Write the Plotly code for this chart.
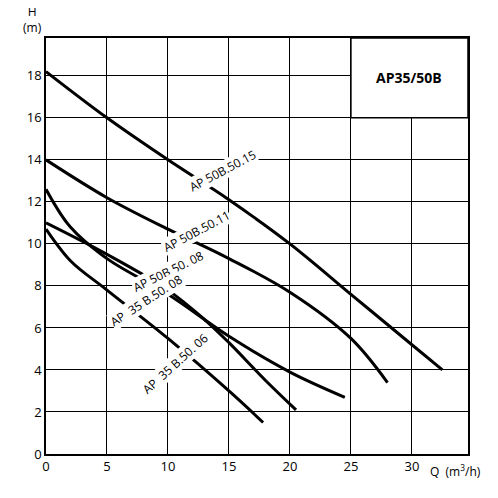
import plotly.graph_objects as go

names = ["AP 50B.50.15", "AP 50B.50.11", "AP 50B.50. 08", "AP  35 B.50. 08", "AP  35 B.50. 06"]
qs = [
    [0, 5, 10, 15, 20, 25, 30, 32.5],
    [0, 5, 10, 15, 20, 25, 28],
    [0, 2, 5, 10, 15, 20, 24.5],
    [0, 5, 10, 13, 15, 18, 20.5],
    [0, 2, 5, 10, 15, 17.8],
]
hs = [
    [18.2, 16.0, 14.0, 12.1, 10.0, 7.6, 5.2, 4.0],
    [14.0, 12.2, 10.7, 9.3, 7.7, 5.5, 3.4],
    [12.6, 10.8, 9.3, 7.6, 5.6, 3.9, 2.7],
    [11.0, 9.5, 7.8, 6.4, 5.3, 3.5, 2.1],
    [10.7, 9.2, 7.8, 5.5, 3.0, 1.5],
]
label_pos = [(14.5, 13.5, -28), (12.3, 10.6, -28), (10.0, 8.7, -26), (8.2, 7.3, -33), (10.6, 4.3, -42)]
x_ticks = [0, 5, 10, 15, 20, 25, 30]
y_ticks = [0, 2, 4, 6, 8, 10, 12, 14, 16, 18]

fig = go.Figure()
for q, h in zip(qs, hs):
    fig.add_trace(go.Scatter(x=q, y=h, mode="lines", line=dict(color="black", width=3, shape="spline"), showlegend=False))
for n, (x, y, a) in zip(names, label_pos):
    fig.add_annotation(x=x, y=y, text=n, showarrow=False, textangle=a, bgcolor="white", borderpad=0,
                       font=dict(size=12, color="black", family="Open Sans"))
fig.add_shape(type="rect", x0=25, x1=34.6, y0=16, y1=19.8, line=dict(color="black", width=1.5), fillcolor="white")
fig.add_annotation(x=29.8, y=17.9, text="<b>AP35/50B</b>", showarrow=False, font=dict(size=14, color="black"))
fig.add_annotation(x=0, y=19.8, text="H<br>(m)", showarrow=False, xanchor="right", yanchor="bottom",
                   xshift=-2, font=dict(size=12))
fig.add_annotation(x=31.3, y=0, text="Q  (m<sup>3</sup>/h)", showarrow=False, xanchor="left", yanchor="top",
                   yshift=-6, font=dict(size=12))

ax = dict(showgrid=True, gridcolor="black", gridwidth=1, showline=True, linecolor="black", linewidth=1.5, mirror=True,
          zeroline=False, ticks="", automargin=False, tickfont=dict(size=13, color="black"))
fig.update_xaxes(range=[0, 34.6], tickvals=x_ticks, **ax)
fig.update_yaxes(range=[0, 19.8], tickvals=y_ticks, **ax)
fig.update_layout(width=498, height=498, margin=dict(l=38, r=38, t=30, b=52), plot_bgcolor="white",
                  paper_bgcolor="white", font=dict(family="Open Sans", color="black"))
fig.write_html("out.html")
